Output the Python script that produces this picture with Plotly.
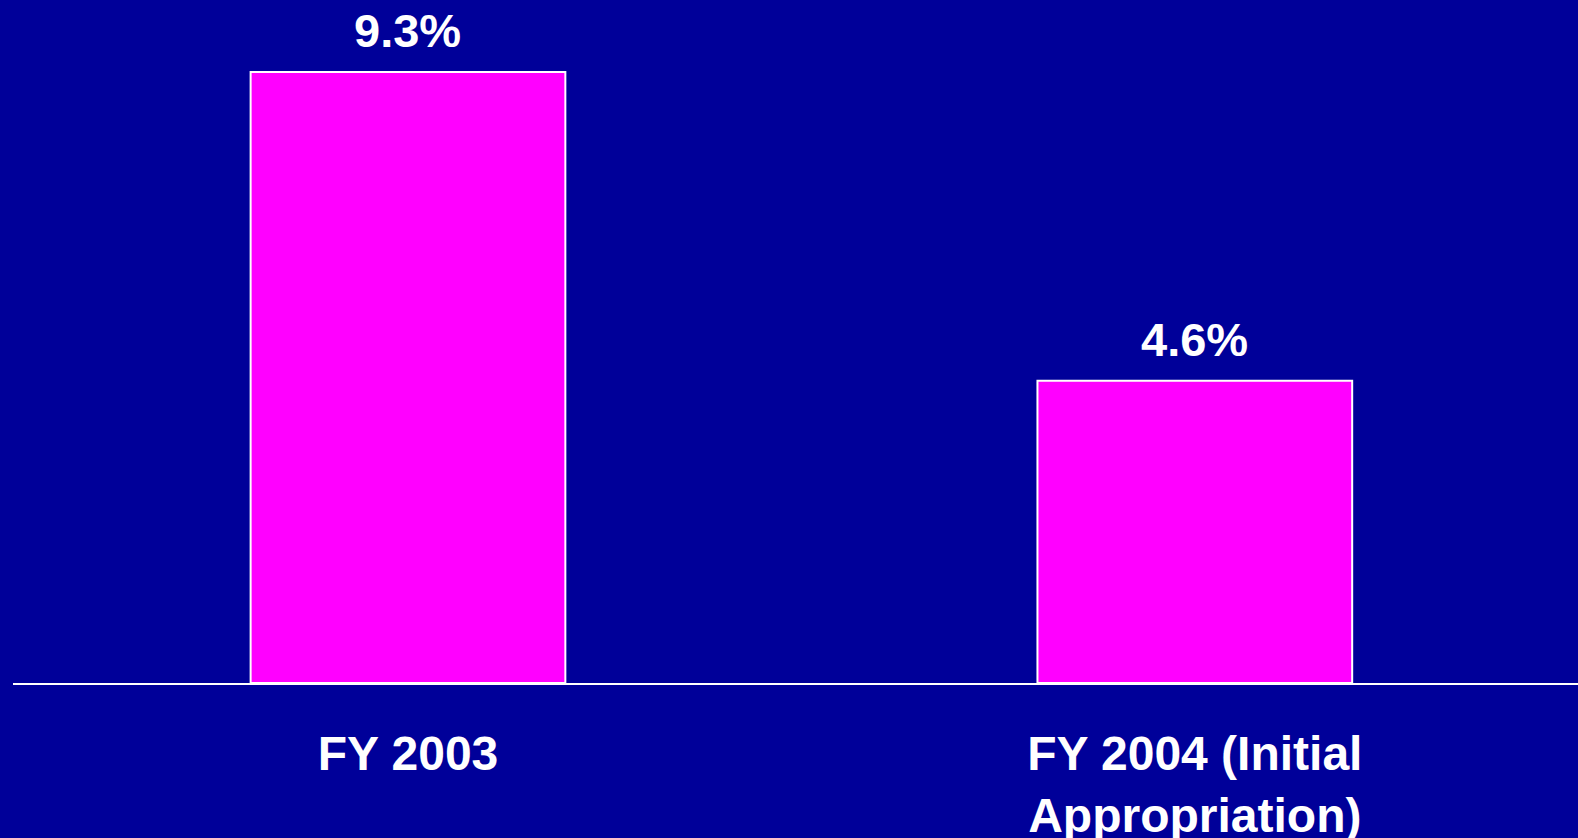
import plotly.graph_objects as go

categories = ["FY 2003", "FY 2004 (Initial<br>Appropriation)"]
values = [9.3, 4.6]
value_labels = ["9.3%", "4.6%"]

BG = "#000099"
BAR = "#FF00FF"
FONT = "Liberation Sans, Arial, sans-serif"

fig = go.Figure()
fig.add_trace(go.Bar(
    x=categories, y=values, width=0.40,
    marker=dict(color=BAR, line=dict(color="white", width=2)),
    hoverinfo="skip",
))

for c, v, t in zip(categories, values, value_labels):
    fig.add_annotation(x=c, y=v, text=t, showarrow=False, yanchor="bottom",
                       yshift=13, font=dict(family=FONT, size=47, color="white", weight="bold"))

fig.update_layout(
    width=1578, height=838,
    paper_bgcolor=BG, plot_bgcolor=BG,
    margin=dict(l=13, r=0, t=0, b=155, autoexpand=False),
    showlegend=False,
    xaxis=dict(range=[-0.502, 1.487], showgrid=False, zeroline=False,
               showline=True, linecolor="white", linewidth=2,
               ticks="", ticklabelstandoff=27, automargin=False,
               tickfont=dict(family=FONT, size=48, color="white", weight="bold")),
    yaxis=dict(range=[0, 10.396], visible=False, showgrid=False, zeroline=False,
               automargin=False),
)

fig.write_html(
    "out.html",
    config={"displayModeBar": False},
    post_script="document.body.style.margin='0';document.body.style.background='#000099';document.body.style.overflow='hidden';",
)
